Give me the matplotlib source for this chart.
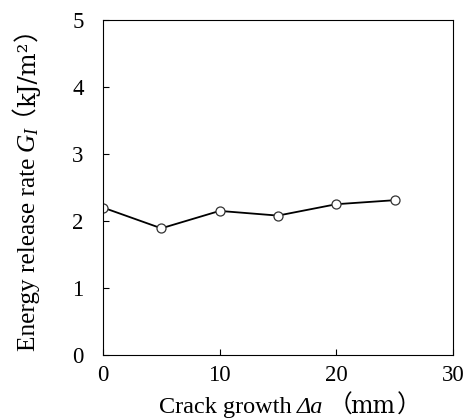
import matplotlib
matplotlib.use("Agg")
import matplotlib.pyplot as plt

# crack growth (mm) and energy release rate G_I (kJ/m^2)
crack_growth = [0, 5, 10, 15, 20, 25]
energy_rate = [2.20, 1.89, 2.15, 2.08, 2.25, 2.31]

x_ticks = [0, 10, 20, 30]
y_ticks = [0, 1, 2, 3, 4, 5]

plt.rcParams['font.family'] = ['Liberation Serif', 'DejaVu Serif']
plt.rcParams['mathtext.fontset'] = 'custom'
plt.rcParams['mathtext.rm'] = 'Liberation Serif'
plt.rcParams['mathtext.it'] = 'Liberation Serif:italic'
CJK = ['Noto Sans CJK JP']
WIDE = ['DejaVu Serif']

W, H = 464, 418
fig = plt.figure(figsize=(W / 100, H / 100), dpi=100)
ax = fig.add_axes([0.222, 0.151, 0.754, 0.801])

ax.plot(crack_growth, energy_rate, color='black', lw=1.3, marker='o',
        ms=6.5, mfc='white', mec='#333333', mew=0.9)

ax.set_xlim(0, 30)
ax.set_ylim(0, 5)
ax.set_xticks(x_ticks)
ax.set_yticks(y_ticks)
ax.tick_params(axis='both', direction='in', length=4, width=0.8, labelsize=16.5)
ax.tick_params(axis='y', pad=14)
ax.tick_params(axis='x', pad=7)
for s in ax.spines.values():
    s.set_linewidth(0.8)

fig.canvas.draw()
r = fig.canvas.get_renderer()


def place(pieces, start, base, vertical=False):
    # lay text pieces end to end from `start`, sitting on `base` (pixels)
    rot = 90 if vertical else 0
    pos = start
    for s, style, fam, fs, gap in pieces:
        kw = {'family': fam} if fam else {}
        t = fig.text(0, 0, s, fontsize=fs, style=style, rotation=rot,
                     ha='left', va='baseline', rotation_mode='anchor', **kw)
        if vertical:
            t.set_position((base / W, pos / H))
            pos += t.get_window_extent(r).height + gap
        else:
            t.set_position((pos / W, base / H))
            pos += t.get_window_extent(r).width + gap


# a leading space keeps the wide bracket's left bearing inside its box
place([('Crack growth', 'normal', None, 17.5, 5),
       ('Δa', 'italic', None, 17.5, 0),
       (' （', 'normal', CJK, 17.5, -3),
       ('mm', 'normal', WIDE, 17, 2),
       ('）', 'normal', CJK, 17.5, 0)],
      159, H - 413)
place([('Energy release rate', 'normal', None, 18.2, 5),
       (r'$G_I$', 'normal', None, 18.2, -12),
       (' （', 'normal', CJK, 18.2, 0),
       ('kJ/m²', 'normal', WIDE, 17.5, 1),
       ('）', 'normal', CJK, 18.2, 0)],
      67, 35, vertical=True)

fig.savefig('out.png', dpi=100)
